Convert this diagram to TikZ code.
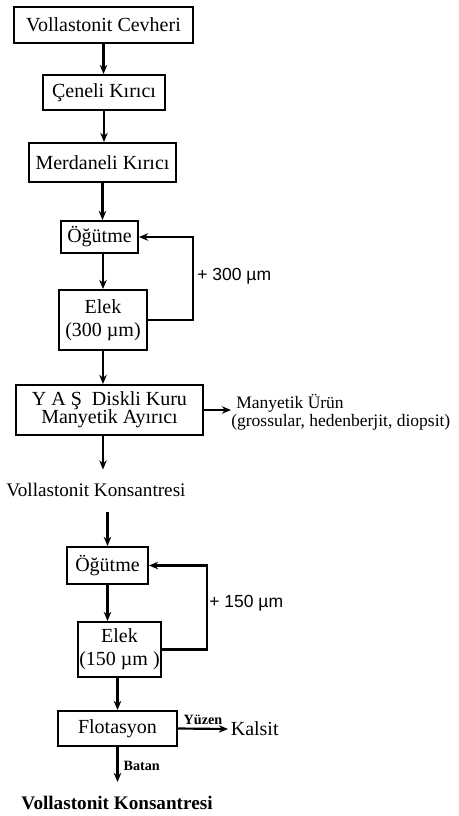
\documentclass[tikz,border=0pt]{standalone}
\usepackage{fontspec}
\setmainfont{Liberation Serif}
\newfontfamily\labelsans{Liberation Sans}
\usetikzlibrary{arrows.meta}
\tikzstyle{arrow} = [line width=1.3pt,-{Stealth[length=5.5pt,width=4.5pt]}]
\tikzstyle{box} = [draw,line width=1.2pt,inner sep=0pt,align=center,font=\fontsize{12}{14}\selectfont]
\tikzstyle{txt} = [inner sep=0pt,font=\fontsize{11.5}{13}\selectfont]

\begin{document}
\begin{tikzpicture}[x=0.6pt,y=0.6pt,yscale=-1,xscale=1]
\useasboundingbox (0,0) rectangle (458,816);

% Kirma
\node (cevher) at (103.5,25) [box,minimum width=107.4pt,minimum height=21.6pt] {Vollastonit Cevheri};
\node (ceneli) at (104,92.5) [box,minimum width=73.2pt,minimum height=21pt] {Çeneli Kırıcı};
\node (merdane) at (102.5,162.5) [box,minimum width=88.2pt,minimum height=23.4pt] {Merdaneli Kırıcı};

% Ogutme - Elek (300)
\node (ogutme1) at (99.5,237) [box,minimum width=46.2pt,minimum height=19.2pt] {Öğütme};
\node (elek1) at (103,320) [box,minimum width=52.8pt,minimum height=36pt] {Elek\\(300 µm)};
\node (lab300) at (197,276) [anchor=west,inner sep=0pt,font=\labelsans\fontsize{10.5}{12}\selectfont] {+ 300 µm};

% Manyetik ayirma
\node (yas) at (109.5,410) [box,minimum width=112.2pt,minimum height=30pt,font=\fontsize{12}{11}\selectfont] {Y A Ş \ Diskli Kuru\\Manyetik Ayırıcı};
\node (mag) at (231,412) [anchor=west,inner sep=0pt,align=left,font=\fontsize{10.5}{9.5}\selectfont] {\hspace{3pt}Manyetik Ürün\\(grossular, hedenberjit, diopsit)};
\node (kons1) at (96,490) [txt,inner sep=4pt] {Vollastonit Konsantresi};

% Ogutme - Elek (150)
\node (ogutme2) at (107.5,565.5) [box,minimum width=48.6pt,minimum height=22.2pt] {Öğütme};
\node (elek2) at (119.5,649.5) [box,minimum width=49.8pt,minimum height=33pt] {Elek\\(150 µm )};
\node (lab150) at (209,603) [anchor=west,inner sep=0pt,font=\labelsans\fontsize{10.5}{12}\selectfont] {+ 150 µm};

% Flotasyon
\node (flot) at (117.5,728.5) [box,minimum width=71.4pt,minimum height=21pt] {Flotasyon};
\node (kalsit) at (228,729) [anchor=west,inner sep=1.5pt,font=\fontsize{12}{14}\selectfont] {Kalsit};
\coordinate (batanend) at (117.5,782);
\node (kons2) at (117,803) [txt,font=\bfseries\fontsize{11.5}{13}\selectfont] {Vollastonit Konsantresi};

% Oklar
\draw[arrow] (cevher.south) -- (cevher.south |- ceneli.north);
\draw[arrow] (ceneli.south) -- (ceneli.south |- merdane.north);
\draw[arrow] (merdane.south) -- (merdane.south |- ogutme1.north);
\draw[arrow] (elek1.north |- ogutme1.south) -- (elek1.north);
\draw[arrow] (elek1.east) -- ++(45,0) |- (ogutme1.east);
\draw[arrow] (elek1.south) -- (elek1.south |- yas.north);
\draw[arrow] (yas.east) -- (yas.east -| mag.west);
\draw[arrow,shorten >=4pt] (yas.south -| elek1) -- (kons1.north -| elek1);
\draw[arrow,shorten <=5pt] (kons1.south -| ogutme2) -- (ogutme2.north);
\draw[arrow] (ogutme2.south) -- (ogutme2.south |- elek2.north);
\draw[arrow] (elek2.east) -- ++(45,0) |- (ogutme2.east);
\draw[arrow] (flot.north |- elek2.south) -- (flot.north);
\draw[arrow] (flot.east) -- (kalsit.west) node (yuzen) [midway,above,inner sep=2pt,font=\bfseries\fontsize{8.5}{10}\selectfont] {Yüzen};
\draw[arrow] (flot.south) -- (batanend) node (batan) [pos=0.55,right,inner sep=3pt,font=\bfseries\fontsize{8.5}{10}\selectfont] {Batan};

\end{tikzpicture}
\end{document}
